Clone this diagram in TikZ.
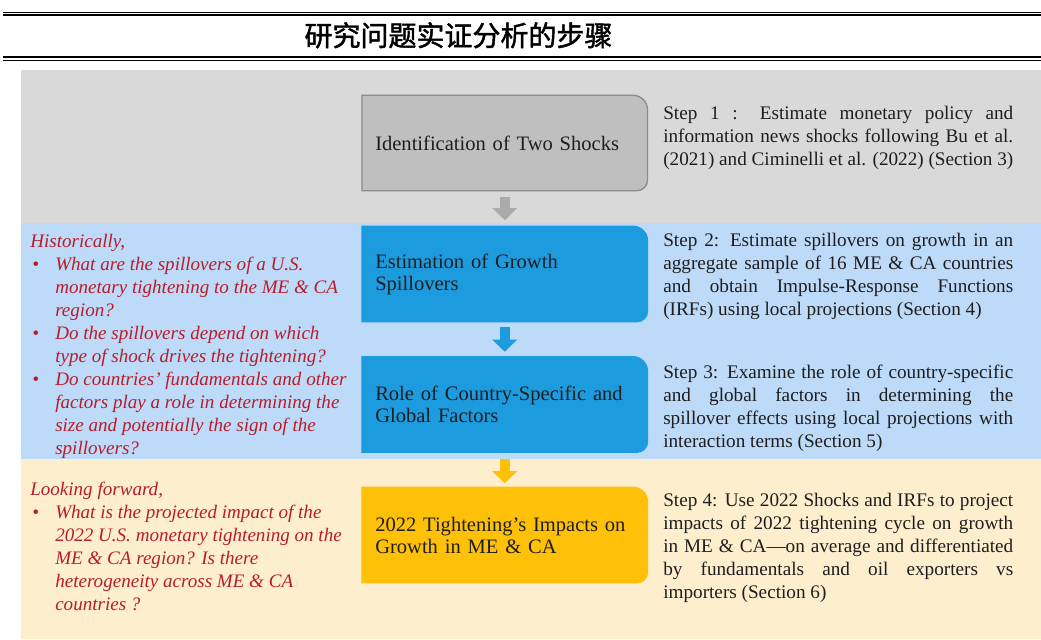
\documentclass[tikz,border=0pt]{standalone}
\usepackage{fontspec}
\setmainfont{Liberation Serif}
\newfontfamily\cjkfont[FakeBold=1.6]{Noto Sans CJK SC}
\usetikzlibrary{arrows.meta}
\pgfdeclarelayer{panels}
\pgfdeclarelayer{boxes}
\pgfsetlayers{panels,boxes,main}
\definecolor{panelgray}{RGB}{217,217,217}
\definecolor{panelblue}{RGB}{189,218,248}
\definecolor{panelyellow}{RGB}{253,239,206}
\definecolor{boxgray}{RGB}{191,191,191}
\definecolor{bordgray}{RGB}{140,140,140}
\definecolor{boxblue}{RGB}{29,155,223}
\definecolor{boxyellow}{RGB}{255,193,7}
\definecolor{arrgray}{RGB}{170,170,170}
\definecolor{txt}{RGB}{30,30,30}
\definecolor{qred}{RGB}{185,28,42}
\newcommand\stepshape[3]{%
  \filldraw[fill=#2, draw=#3, line width=1pt]
    (#1.north west) -- ([xshift=-11pt]#1.north east)
    arc[start angle=90, end angle=0, radius=11pt]
    -- ([yshift=8pt]#1.south east)
    arc[start angle=0, end angle=-90, radius=8pt]
    -- (#1.south west) -- cycle;}
\newcommand\justsetup{\hyphenpenalty=10000\relax\exhyphenpenalty=10000\relax\tolerance=10000\relax}
\begin{document}
\begin{tikzpicture}[x=0.75pt,y=-0.75pt,
  stepbox/.style={anchor=west, text width=194.25pt, inner xsep=9.75pt, inner ysep=0pt,
    minimum height=71.25pt, align=left, text=txt,
    font=\fontsize{15.4}{16.5}\selectfont},
  steptext/.style={anchor=base west, text width=262.5pt, inner sep=0pt, align=justify,
    text=txt, font=\fontsize{14.4}{17.25}\selectfont\justsetup},
  qtext/.style={anchor=base west, inner sep=0pt, text=qred,
    font=\fontsize{14.3}{17.25}\selectfont\itshape},
  blockarrow/.style={draw=#1, line width=7.5pt, -{Triangle[length=9pt,width=18pt]}}
]
\useasboundingbox (0,0) rectangle (1041,639);
\begin{pgfonlayer}{panels}
  \fill[white] (0,0) rectangle (1041,639);
  \fill[panelgray] (21,70) rectangle (1041,223);
  \fill[panelblue] (21,223) rectangle (1041,459);
  \fill[panelyellow] (21,459) rectangle (1041,639);
\end{pgfonlayer}
% title rules
\draw[line width=0.75pt] (3,12) -- (1041,12);
\draw[line width=1.6pt] (3,14.8) -- (1041,14.8);
\draw[line width=1.6pt] (3,57.2) -- (1041,57.2);
\draw[line width=0.75pt] (3,60) -- (1041,60);
\node[anchor=base, inner sep=0pt, font=\cjkfont\fontsize{21}{21}\selectfont] (title) at (458.5,46) {研究问题实证分析的步骤};

% boxes
\node[stepbox] (b1) at (362,143) {Identification of Two Shocks};
\node[stepbox] (b2) at (362,274) {Estimation of Growth\\Spillovers};
\node[stepbox] (b3) at (362,404.5) {Role of Country-Specific and\\Global Factors};
\node[stepbox] (b4) at (362,535) {2022 Tightening’s Impacts on\\Growth in ME \& CA};
\begin{pgfonlayer}{boxes}
  \stepshape{b1}{boxgray}{bordgray}
  \stepshape{b2}{boxblue}{boxblue}
  \stepshape{b3}{boxblue}{boxblue}
  \stepshape{b4}{boxyellow}{boxyellow}
\end{pgfonlayer}
\draw[blockarrow=arrgray] ([yshift=-4.5pt]b1.south) -- ([yshift=4.5pt]b2.north);
\draw[blockarrow=boxblue] ([yshift=-3.75pt]b2.south) -- ([yshift=3.75pt]b3.north);
\draw[blockarrow=boxyellow] ([yshift=-5pt]b3.south) -- ([yshift=3pt]b4.north);

% step descriptions
\node[steptext] (s1) at (663,119) {Step 1 : Estimate monetary policy and\linebreak information news shocks following Bu et al.\linebreak (2021) and Ciminelli et al. (2022) (Section 3)};
\node[steptext] (s2) at (663,246) {Step 2: Estimate spillovers on growth in an\linebreak aggregate sample of 16 ME \& CA countries\linebreak and obtain Impulse-Response Functions\linebreak (IRFs) using local projections (Section 4)};
\node[steptext] (s3) at (663,378) {Step 3: Examine the role of country-specific\linebreak and global factors in determining the\linebreak spillover effects using local projections with\linebreak interaction terms (Section 5)};
\node[steptext] (s4) at (663,506) {Step 4: Use 2022 Shocks and IRFs to project\linebreak impacts of 2022 tightening cycle on growth\linebreak in ME \& CA---on average and differentiated\linebreak by fundamentals and oil exporters vs\linebreak importers (Section 6)};

% questions
\node[qtext] (q1) at (30,247) {\begin{tabular}[t]{@{}p{18.75pt}@{}l@{}}
\multicolumn{2}{@{}l@{}}{Historically,}\\
\hspace*{1.5pt}\textbullet & What are the spillovers of a U.S.\\
 & monetary tightening to the ME \& CA\\
 & region?\\
\hspace*{1.5pt}\textbullet & Do the spillovers depend on which\\
 & type of shock drives the tightening?\\
\hspace*{1.5pt}\textbullet & Do countries’ fundamentals and other\\
 & factors play a role in determining the\\
 & size and potentially the sign of the\\
 & spillovers?
\end{tabular}};
\node[qtext] (q2) at (30,495) {\begin{tabular}[t]{@{}p{18.75pt}@{}l@{}}
\multicolumn{2}{@{}l@{}}{Looking forward,}\\
\hspace*{1.5pt}\textbullet & What is the projected impact of the\\
 & 2022 U.S. monetary tightening on the\\
 & ME \& CA region? Is there\\
 & heterogeneity across ME \& CA\\
 & countries ?
\end{tabular}};
\end{tikzpicture}
\end{document}
